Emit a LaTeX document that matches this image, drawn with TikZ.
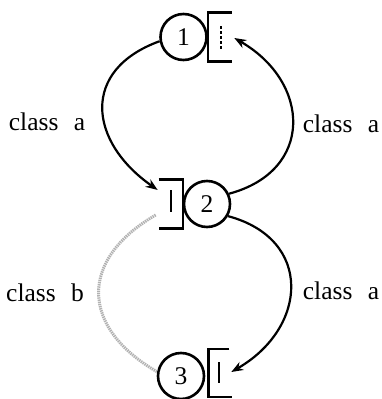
\documentclass[tikz,border=0pt]{standalone}
\usepackage{fontspec}
\setmainfont{Liberation Serif}
\usetikzlibrary{calc,arrows.meta}

\begin{document}
\begin{tikzpicture}[x=1pt, y=1pt, line width=2.4pt,
  every node/.style={font=\fontsize{25.5}{28}\selectfont},
  station/.style={circle, draw, line width=2.6pt, minimum size=46pt, inner sep=0pt},
  route/.style={-{Stealth[length=12pt,width=9pt]}, line width=2.2pt},
  lowroute/.style={draw=gray!60, line width=3pt, dash pattern=on 1.4pt off 0.8pt}]
\useasboundingbox (0,0) rectangle (381,399);
% stations
\node[station] (n1) at (183.5,362) {1};
\node[station] (n2) at (207,195) {2};
\node[station] (n3) at (181,23) {3};
% queues
\draw ($(n1.east)+(24,24.5)$) -| ($(n1.east)+(0,-24.5)$) -- ++(24,0);
\draw ($(n2.west)+(-24,24.5)$) -| ($(n2.west)+(0,-24.5)$) -- ++(-24,0);
\draw ($(n3.east)+(24,27)$) -| ($(n3.east)+(3,-21)$) -- ++(24,0);
\draw[dash pattern=on 3pt off 2pt, line width=1.8pt] ($(n1.east)+(13,-12)$) -- ++(0,24);
\draw[line width=1.8pt] ($(n2.west)+(-12,-8)$) -- ++(0,22);
\draw[line width=1.8pt] ($(n3.east)+(14,-7)$) -- ++(0,21);
\coordinate (q1) at ($(n1.east)+(26.5,-1)$);
\coordinate (q2) at ($(n2.west)+(-25,14)$);
\coordinate (q2out) at ($(n2.west)+(-27,-11)$);
\coordinate (q3) at ($(n3.east)+(26,4)$);
% routes
\draw[route] (n1.190) to[out=200, in=145, looseness=1.45] (q2);
\draw[route] (n2.25) to[out=15, in=-30, looseness=1.45] (q1);
\draw[route] (n2.-30) to[out=-15, in=30, looseness=1.45] (q3);
\draw[lowroute] (q2out) to[out=210, in=150, looseness=1.45] (n3.170);
% labels
\node (la) at (47,277) {class\hspace{0.6em}a};
\node (lb) at (341,275) {class\hspace{0.6em}a};
\node (lc) at (45,106) {class\hspace{0.6em}b};
\node (ld) at (341,108) {class\hspace{0.6em}a};
\end{tikzpicture}
\end{document}
